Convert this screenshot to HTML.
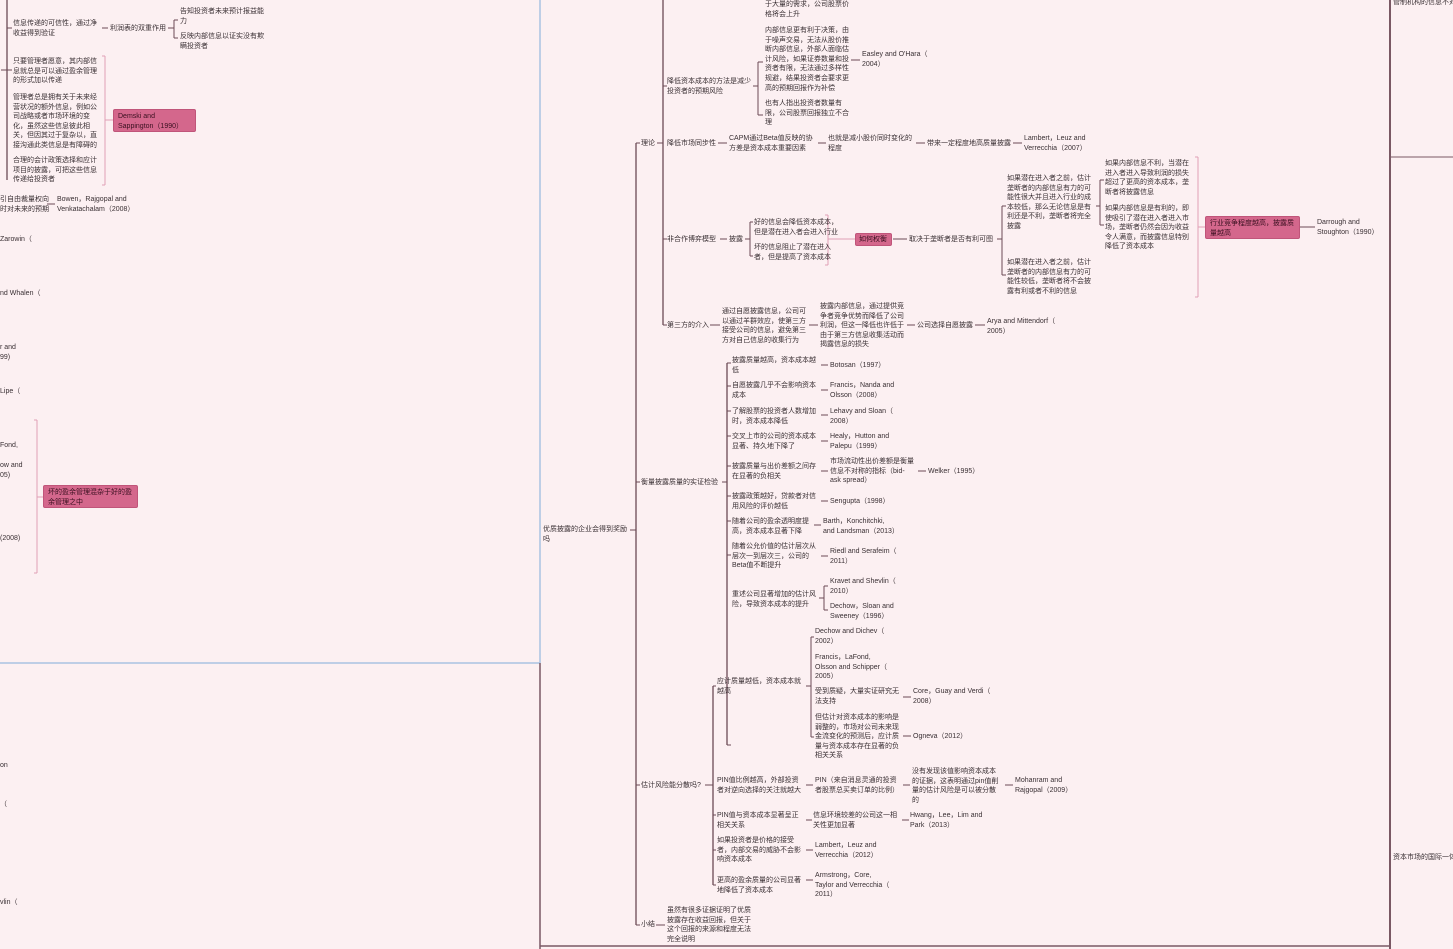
<!DOCTYPE html>
<html><head><meta charset="utf-8">
<style>
html,body{margin:0;padding:0}
body{width:1453px;height:949px;background:#fcf0f2;position:relative;overflow:hidden;font-family:"Liberation Sans","Noto Sans CJK SC",sans-serif}
.t{position:absolute;font-size:7px;line-height:9.6px;color:#3a3034;white-space:nowrap}
.p{position:absolute;background:#d4678c;border:1px solid #c0557a;border-radius:2px;color:#3a1020;font-size:7px;line-height:9.6px;padding:2px 4px;box-sizing:border-box;white-space:nowrap}
svg{position:absolute;left:0;top:0}
</style></head><body>
<svg width="1453" height="949" fill="none">
<line x1="540" y1="0" x2="540" y2="663" stroke="#a9c2e2" stroke-width="1.5"/>
<line x1="0" y1="663" x2="540" y2="663" stroke="#a9c2e2" stroke-width="1.5"/>
<line x1="540" y1="663" x2="540" y2="949" stroke="#7a5864" stroke-width="1.5"/>
<line x1="540" y1="946" x2="1390" y2="946" stroke="#7a5864" stroke-width="1.5"/>
<line x1="1390" y1="0" x2="1390" y2="949" stroke="#7a5864" stroke-width="2"/>
<line x1="1390" y1="157" x2="1453" y2="157" stroke="#7a5864" stroke-width="1"/>
<g stroke="#6b4a55" stroke-width="1.3">
<line x1="7" y1="0" x2="7" y2="180"/>
<line x1="636" y1="143" x2="636" y2="925"/>
<line x1="663" y1="0" x2="663" y2="325"/>
<line x1="727" y1="363" x2="727" y2="745"/>
<line x1="713" y1="686" x2="713" y2="885"/>
</g>
<g stroke="#6b4a55" stroke-width="1">
<line x1="7" y1="28" x2="12" y2="28"/><line x1="1" y1="70" x2="12" y2="70"/>
<line x1="102" y1="28" x2="108" y2="28"/><line x1="168" y1="28" x2="174" y2="28"/>
<line x1="174" y1="20" x2="174" y2="38"/><line x1="174" y1="20" x2="178" y2="20"/><line x1="174" y1="38" x2="178" y2="38"/>
<line x1="47" y1="204" x2="55" y2="204"/>
<line x1="630" y1="530" x2="636" y2="530"/>
<line x1="636" y1="143" x2="640" y2="143"/><line x1="636" y1="482" x2="640" y2="482"/><line x1="636" y1="785" x2="640" y2="785"/><line x1="636" y1="925" x2="640" y2="925"/>
<line x1="657" y1="143" x2="663" y2="143"/>
<line x1="663" y1="86" x2="667" y2="86"/><line x1="663" y1="239" x2="667" y2="239"/><line x1="663" y1="325" x2="667" y2="325"/>
<line x1="753" y1="86" x2="758" y2="86"/><line x1="758" y1="62" x2="758" y2="115"/><line x1="758" y1="62" x2="763" y2="62"/><line x1="758" y1="115" x2="763" y2="115"/>
<line x1="851" y1="60" x2="860" y2="60"/>
<line x1="718" y1="143" x2="727" y2="143"/><line x1="818" y1="143" x2="826" y2="143"/><line x1="916" y1="143" x2="925" y2="143"/><line x1="1013" y1="143" x2="1022" y2="143"/>
<line x1="720" y1="239" x2="727" y2="239"/><line x1="745" y1="239" x2="750" y2="239"/>
<line x1="750" y1="222" x2="750" y2="256"/><line x1="750" y1="222" x2="753" y2="222"/><line x1="750" y1="256" x2="753" y2="256"/>
<line x1="893" y1="239" x2="907" y2="239"/><line x1="997" y1="239" x2="1002" y2="239"/>
<line x1="1002" y1="206" x2="1002" y2="275"/><line x1="1002" y1="206" x2="1006" y2="206"/><line x1="1002" y1="275" x2="1006" y2="275"/>
<line x1="1096" y1="206" x2="1100" y2="206"/><line x1="1100" y1="180" x2="1100" y2="225"/><line x1="1100" y1="180" x2="1104" y2="180"/><line x1="1100" y1="225" x2="1104" y2="225"/>
<line x1="1300" y1="227" x2="1315" y2="227"/>
<line x1="710" y1="325" x2="720" y2="325"/><line x1="809" y1="325" x2="818" y2="325"/><line x1="907" y1="325" x2="915" y2="325"/><line x1="975" y1="325" x2="985" y2="325"/>
<line x1="722" y1="482" x2="727" y2="482"/>
<line x1="727" y1="363" x2="731" y2="363"/><line x1="727" y1="386" x2="731" y2="386"/><line x1="727" y1="411" x2="731" y2="411"/><line x1="727" y1="436" x2="731" y2="436"/><line x1="727" y1="466" x2="731" y2="466"/><line x1="727" y1="496" x2="731" y2="496"/><line x1="727" y1="521" x2="731" y2="521"/><line x1="727" y1="555" x2="731" y2="555"/><line x1="727" y1="745" x2="731" y2="745"/>
<line x1="821" y1="365" x2="828" y2="365"/><line x1="821" y1="390" x2="828" y2="390"/><line x1="821" y1="415" x2="828" y2="415"/><line x1="821" y1="441" x2="828" y2="441"/><line x1="821" y1="471" x2="828" y2="471"/><line x1="918" y1="471" x2="926" y2="471"/><line x1="821" y1="501" x2="828" y2="501"/><line x1="814" y1="525" x2="821" y2="525"/><line x1="821" y1="556" x2="828" y2="556"/>
<line x1="819" y1="598" x2="824" y2="598"/><line x1="824" y1="586" x2="824" y2="610"/><line x1="824" y1="586" x2="828" y2="586"/><line x1="824" y1="610" x2="828" y2="610"/>
<line x1="705" y1="785" x2="713" y2="785"/>
<line x1="713" y1="686" x2="716" y2="686"/><line x1="713" y1="815" x2="716" y2="815"/><line x1="713" y1="850" x2="716" y2="850"/><line x1="713" y1="885" x2="716" y2="885"/>
<line x1="806" y1="686" x2="811" y2="686"/><line x1="811" y1="637" x2="811" y2="737"/><line x1="811" y1="637" x2="814" y2="637"/><line x1="811" y1="737" x2="814" y2="737"/>
<line x1="903" y1="697" x2="911" y2="697"/><line x1="903" y1="736" x2="911" y2="736"/>
<line x1="806" y1="785" x2="813" y2="785"/><line x1="903" y1="785" x2="910" y2="785"/><line x1="1005" y1="785" x2="1013" y2="785"/>
<line x1="806" y1="820" x2="812" y2="820"/><line x1="902" y1="820" x2="909" y2="820"/>
<line x1="806" y1="850" x2="813" y2="850"/><line x1="806" y1="880" x2="813" y2="880"/>
<line x1="656" y1="925" x2="665" y2="925"/>
</g>
<g stroke="#e0a0b6" stroke-width="1">
<line x1="105" y1="56" x2="105" y2="185"/><line x1="102" y1="56" x2="105" y2="56"/><line x1="102" y1="185" x2="105" y2="185"/><line x1="105" y1="120" x2="113" y2="120"/>
<line x1="37" y1="420" x2="37" y2="573"/><line x1="34" y1="420" x2="37" y2="420"/><line x1="34" y1="573" x2="37" y2="573"/><line x1="37" y1="497" x2="43" y2="497"/>
<line x1="828" y1="215" x2="828" y2="265"/><line x1="825" y1="215" x2="828" y2="215"/><line x1="825" y1="265" x2="828" y2="265"/><line x1="828" y1="239" x2="855" y2="239"/>
<line x1="1198" y1="157" x2="1198" y2="297"/><line x1="1195" y1="157" x2="1198" y2="157"/><line x1="1195" y1="297" x2="1198" y2="297"/><line x1="1198" y1="227" x2="1205" y2="227"/>
</g>
</svg>

<div class="t" style="left:13px;top:19px">信息传递的可信性，通过净<br>收益得到验证</div>
<div class="t" style="left:110px;top:24px">利润表的双重作用</div>
<div class="t" style="left:180px;top:7px">告知投资者未来预计报益能<br>力</div>
<div class="t" style="left:180px;top:32px">反映内部信息以证实没有欺<br>瞒投资者</div>
<div class="t" style="left:13px;top:57px">只要管理者愿意，其内部信<br>息就总是可以通过盈余管理<br>的形式加以传递</div>
<div class="t" style="left:13px;top:93px">管理者总是拥有关于未来经<br>营状况的额外信息，例如公<br>司战略或者市场环境的变<br>化，虽然这些信息彼此相<br>关，但因其过于复杂以，直<br>接沟通此类信息是有障碍的</div>
<div class="t" style="left:13px;top:156px">合理的会计政策选择和应计<br>项目的披露，可把这些信息<br>传递给投资者</div>
<div class="p" style="left:113px;top:109px;width:83px;height:23px">Demski and<br>Sappington（1990）</div>
<div class="t" style="left:0px;top:195px">引自由裁量权向<br>时对未来的预期</div>
<div class="t" style="left:57px;top:195px">Bowen，Rajgopal and<br>Venkatachalam（2008）</div>
<div class="t" style="left:0px;top:235px">Zarowin（</div>
<div class="t" style="left:0px;top:289px">nd Whalen（</div>
<div class="t" style="left:0px;top:343px">r and<br>99)</div>
<div class="t" style="left:0px;top:387px">Lipe（</div>
<div class="t" style="left:0px;top:441px">Fond,</div>
<div class="t" style="left:0px;top:461px">ow and<br>05)</div>
<div class="t" style="left:0px;top:534px">(2008)</div>
<div class="p" style="left:43px;top:485px;width:95px;height:23px">坏的盈余管理混杂于好的盈<br>余管理之中</div>
<div class="t" style="left:0px;top:761px">on</div>
<div class="t" style="left:0px;top:800px">（</div>
<div class="t" style="left:0px;top:898px">vlin（</div>

<div class="t" style="left:543px;top:525px">优质披露的企业会得到奖励<br>吗</div>
<div class="t" style="left:641px;top:139px">理论</div>
<div class="t" style="left:667px;top:77px">降低资本成本的方法是减少<br>投资者的预期风险</div>
<div class="t" style="left:765px;top:0px">于大量的需求，公司股票价<br>格将会上升</div>
<div class="t" style="left:765px;top:26px">内部信息更有利于决策，由<br>于噪声交易，无法从股价推<br>断内部信息，外部人面临估<br>计风险，如果证券数量和投<br>资者有限，无法通过多样性<br>规避，结果投资者会要求更<br>高的预期回报作为补偿</div>
<div class="t" style="left:765px;top:99px">也有人指出投资者数量有<br>限，公司股票回报独立不合<br>理</div>
<div class="t" style="left:862px;top:50px">Easley and O'Hara（<br>2004）</div>
<div class="t" style="left:667px;top:139px">降低市场同步性</div>
<div class="t" style="left:729px;top:134px">CAPM通过Beta值反映的协<br>方差是资本成本重要因素</div>
<div class="t" style="left:828px;top:134px">也就是减小股价同时变化的<br>程度</div>
<div class="t" style="left:927px;top:139px">带来一定程度地高质量披露</div>
<div class="t" style="left:1024px;top:134px">Lambert，Leuz and<br>Verrecchia（2007）</div>
<div class="t" style="left:667px;top:235px">非合作博弈模型</div>
<div class="t" style="left:729px;top:235px">披露</div>
<div class="t" style="left:754px;top:218px">好的信息会降低资本成本，<br>但是潜在进入者会进入行业</div>
<div class="t" style="left:754px;top:243px">坏的信息阻止了潜在进入<br>者，但是提高了资本成本</div>
<div class="p" style="left:855px;top:233px;width:37px;height:13px;padding:1px 3px">如何权衡</div>
<div class="t" style="left:909px;top:235px">取决于垄断者是否有利可图</div>
<div class="t" style="left:1007px;top:174px">如果潜在进入者之前，估计<br>垄断者的内部信息有力的可<br>能性很大并且进入行业的成<br>本较低，那么无论信息是有<br>利还是不利，垄断者将完全<br>披露</div>
<div class="t" style="left:1007px;top:258px">如果潜在进入者之前，估计<br>垄断者的内部信息有力的可<br>能性较低，垄断者将不会披<br>露有利或者不利的信息</div>
<div class="t" style="left:1105px;top:159px">如果内部信息不利，当潜在<br>进入者进入导致利润的损失<br>超过了更高的资本成本，垄<br>断者将披露信息</div>
<div class="t" style="left:1105px;top:204px">如果内部信息是有利的，即<br>使吸引了潜在进入者进入市<br>场，垄断者仍然会因为收益<br>令人满意，而披露信息特别<br>降低了资本成本</div>
<div class="p" style="left:1205px;top:216px;width:95px;height:23px">行业竞争程度越高，披露质<br>量越高</div>
<div class="t" style="left:1317px;top:218px">Darrough and<br>Stoughton（1990）</div>
<div class="t" style="left:667px;top:321px">第三方的介入</div>
<div class="t" style="left:722px;top:307px">通过自愿披露信息，公司可<br>以通过羊群效应，使第三方<br>接受公司的信息，避免第三<br>方对自己信息的收集行为</div>
<div class="t" style="left:820px;top:302px">披露内部信息，通过提供竞<br>争者竞争优势而降低了公司<br>利润，但这一降低也许低于<br>由于第三方信息收集活动而<br>揭露信息的损失</div>
<div class="t" style="left:917px;top:321px">公司选择自愿披露</div>
<div class="t" style="left:987px;top:317px">Arya and Mittendorf（<br>2005）</div>

<div class="t" style="left:641px;top:478px">衡量披露质量的实证检验</div>
<div class="t" style="left:732px;top:356px">披露质量越高，资本成本越<br>低</div>
<div class="t" style="left:830px;top:361px">Botosan（1997）</div>
<div class="t" style="left:732px;top:381px">自愿披露几乎不会影响资本<br>成本</div>
<div class="t" style="left:830px;top:381px">Francis，Nanda and<br>Olsson（2008）</div>
<div class="t" style="left:732px;top:407px">了解股票的投资者人数增加<br>时，资本成本降低</div>
<div class="t" style="left:830px;top:407px">Lehavy and Sloan（<br>2008）</div>
<div class="t" style="left:732px;top:432px">交叉上市的公司的资本成本<br>显著、持久地下降了</div>
<div class="t" style="left:830px;top:432px">Healy，Hutton and<br>Palepu（1999）</div>
<div class="t" style="left:732px;top:462px">披露质量与出价差额之间存<br>在显著的负相关</div>
<div class="t" style="left:830px;top:457px">市场流动性出价差额是衡量<br>信息不对称的指标（bid-<br>ask spread）</div>
<div class="t" style="left:928px;top:467px">Welker（1995）</div>
<div class="t" style="left:732px;top:492px">披露政策越好，贷款者对信<br>用风险的评价越低</div>
<div class="t" style="left:830px;top:497px">Sengupta（1998）</div>
<div class="t" style="left:732px;top:517px">随着公司的盈余透明度提<br>高，资本成本显著下降</div>
<div class="t" style="left:823px;top:517px">Barth，Konchitchki,<br>and Landsman（2013）</div>
<div class="t" style="left:732px;top:542px">随着公允价值的估计层次从<br>层次一到层次三，公司的<br>Beta值不断提升</div>
<div class="t" style="left:830px;top:547px">Riedl and Serafeim（<br>2011）</div>
<div class="t" style="left:732px;top:590px">重述公司显著增加的估计风<br>险，导致资本成本的提升</div>
<div class="t" style="left:830px;top:577px">Kravet and Shevlin（<br>2010）</div>
<div class="t" style="left:830px;top:602px">Dechow，Sloan and<br>Sweeney（1996）</div>

<div class="t" style="left:641px;top:781px">估计风险能分散吗?</div>
<div class="t" style="left:717px;top:677px">应计质量越低，资本成本就<br>越高</div>
<div class="t" style="left:815px;top:627px">Dechow and Dichev（<br>2002）</div>
<div class="t" style="left:815px;top:653px">Francis，LaFond,<br>Olsson and Schipper（<br>2005）</div>
<div class="t" style="left:815px;top:687px">受到质疑，大量实证研究无<br>法支持</div>
<div class="t" style="left:913px;top:687px">Core，Guay and Verdi（<br>2008）</div>
<div class="t" style="left:815px;top:713px">但估计对资本成本的影响是<br>弱整的，市场对公司未来现<br>金流变化的预测后，应计质<br>量与资本成本存在显著的负<br>相关关系</div>
<div class="t" style="left:913px;top:732px">Ogneva（2012）</div>
<div class="t" style="left:717px;top:776px">PIN值比例越高，外部投资<br>者对逆向选择的关注就越大</div>
<div class="t" style="left:815px;top:776px">PIN（来自消息灵通的投资<br>者股票总买卖订单的比例）</div>
<div class="t" style="left:912px;top:767px">没有发现该值影响资本成本<br>的证据，这表明通过pin值削<br>量的估计风险是可以被分散<br>的</div>
<div class="t" style="left:1015px;top:776px">Mohanram and<br>Rajgopal（2009）</div>
<div class="t" style="left:717px;top:811px">PIN值与资本成本显著呈正<br>相关关系</div>
<div class="t" style="left:813px;top:811px">信息环境较差的公司这一相<br>关性更加显著</div>
<div class="t" style="left:910px;top:811px">Hwang，Lee，Lim and<br>Park（2013）</div>
<div class="t" style="left:717px;top:836px">如果投资者是价格的接受<br>者，内部交易的威胁不会影<br>响资本成本</div>
<div class="t" style="left:815px;top:841px">Lambert，Leuz and<br>Verrecchia（2012）</div>
<div class="t" style="left:717px;top:876px">更高的盈余质量的公司显著<br>地降低了资本成本</div>
<div class="t" style="left:815px;top:871px">Armstrong，Core,<br>Taylor and Verrecchia（<br>2011）</div>
<div class="t" style="left:641px;top:920px">小结</div>
<div class="t" style="left:667px;top:906px">虽然有很多证据证明了优质<br>披露存在收益回报，但关于<br>这个回报的来源和程度无法<br>完全说明</div>

<div class="t" style="left:1393px;top:-2px">管制机构的信息不对称</div>
<div class="t" style="left:1393px;top:853px">资本市场的国际一体化</div>
</body></html>
